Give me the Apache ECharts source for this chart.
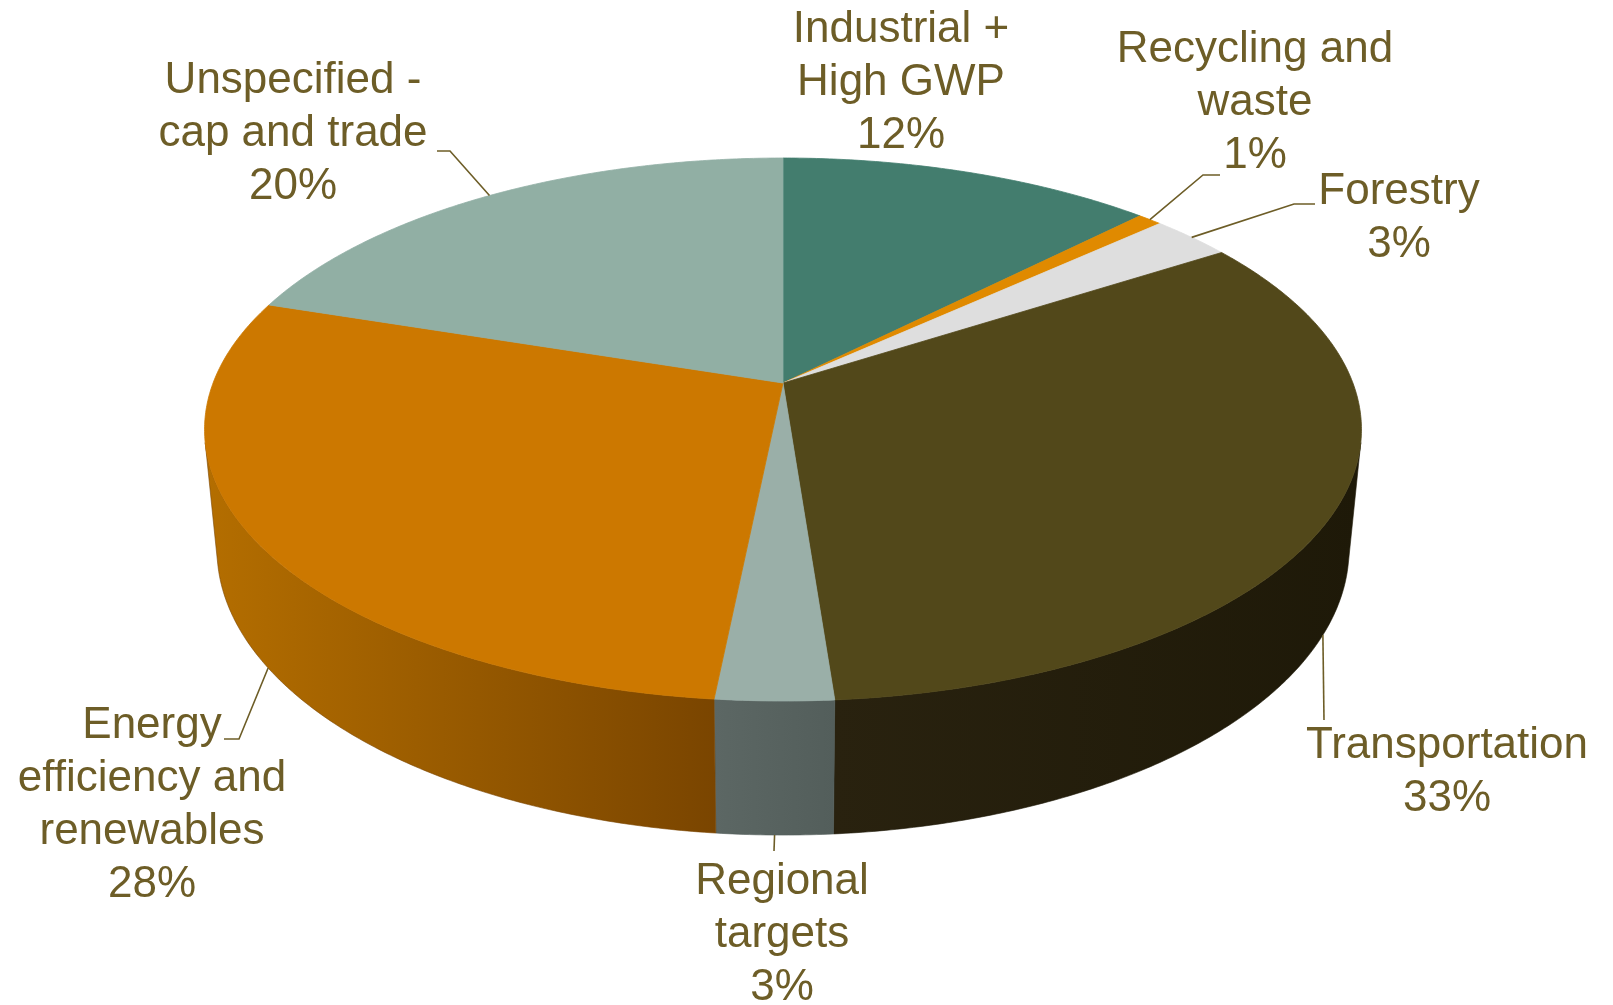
<!DOCTYPE html>
<html><head><meta charset="utf-8">
<script src="https://cdn.jsdelivr.net/npm/echarts@6/dist/echarts.min.js"></script>
<style>html,body{margin:0;padding:0;background:#fff}#chart{width:1613px;height:1005px}</style>
</head><body><div id="chart"></div>
<script>
// ---- data ----
const categories = ['Industrial +\nHigh GWP', 'Recycling and\nwaste', 'Forestry', 'Transportation', 'Regional\ntargets', 'Energy\nefficiency and\nrenewables', 'Unspecified -\ncap and trade'];
const values = [12.4, 0.8, 2.7, 32.9, 2.8, 28.45, 19.95];

// ---- styles ----
const topColors = ['#437d6e', '#e08a00', '#dedede', '#52481a', '#9aafa8', '#cc7800', '#91afa4'];
const sideColors = [['#2f584d', '#2a4f45'], ['#9c6000', '#8a5500'], ['#a0a0a0', '#909090'], ['#29220f', '#1e1908'], ['#5c6764', '#535e5b'], ['#b46e00', '#7a4500'], ['#65807a', '#5a736d']];
const labelColor = '#6d5d27';
// label layout: centre x, centre y of first line, leader bend points (toward label)
const labelLayout = [
  { x: 901, y: 30, leader: null },
  { x: 1255, y: 50, leader: [[1203, 175], [1220, 175]] },
  { x: 1399, y: 192, leader: [[1294, 204], [1315, 204]] },
  { x: 1447, y: 746, leader: [[1324, 720]] },
  { x: 782, y: 882, leader: [[774, 851]] },
  { x: 152, y: 726, leader: [[239, 739], [224, 739]] },
  { x: 293, y: 81, leader: [[450, 151], [437, 151]] }
];
// ---- 3D projection parameters ----
const P = { cx: 783, cy: 383, A: 569.9, sa: 0.4624, ca: 0.8867, D: 5.176, h: 0.239 };

function proj(phi, level) {
  const x = Math.sin(phi), z = Math.cos(phi), y = level;
  const den = 1 + (-y * P.sa + z * P.ca) / P.D;
  const sy = P.A * (z * P.sa + y * P.ca) / den;
  return [P.cx + P.A * x / den, P.cy - sy];
}
const total = values.reduce((a, b) => a + b, 0);
const cum = [];
values.reduce((acc, v, i) => { cum[i] = acc; return acc + v; }, 0);
const visLimit = Math.acos(-1 / (P.D * P.ca)); // side wall visible for phi in [visLimit, 2PI - visLimit]

function arc(a0, a1, level) {
  const pts = [];
  const n = Math.max(2, Math.ceil((a1 - a0) / (Math.PI / 360)));
  for (let i = 0; i <= n; i++) pts.push(proj(a0 + (a1 - a0) * i / n, level));
  return pts;
}

function renderItem(params, api) {
  const i = params.dataIndex;
  const v = api.value(0);
  const a0 = cum[i] / total * 2 * Math.PI;
  const a1 = (cum[i] + v) / total * 2 * Math.PI;
  const children = [];
  // side wall
  const s0 = Math.max(a0, visLimit), s1 = Math.min(a1, 2 * Math.PI - visLimit);
  if (s1 > s0) {
    const topArc = arc(s0, s1, 0);
    const botArc = arc(s0, s1, -P.h).reverse();
    children.push({
      type: 'polygon', z2: 1,
      shape: { points: topArc.concat(botArc) },
      style: {
        fill: new echarts.graphic.LinearGradient(0, 0, 1, 0, [
          { offset: 0, color: sideColors[i][0] }, { offset: 1, color: sideColors[i][1] }]),
        stroke: sideColors[i][1], lineWidth: 0.6
      }
    });
  }
  // top face
  children.push({
    type: 'polygon', z2: 2,
    shape: { points: [[P.cx, P.cy]].concat(arc(a0, a1, 0)) },
    style: { fill: topColors[i], stroke: topColors[i], lineWidth: 0.8 }
  });
  // label
  const L = labelLayout[i];
  const mid = (a0 + a1) / 2;
  const anchor = Math.cos(mid) < -1 / (P.D * P.ca) ? proj(mid, -P.h) : proj(mid, 0);
  if (L.leader) {
    children.push({
      type: 'polyline', z2: 5,
      shape: { points: [anchor].concat(L.leader) },
      style: { stroke: labelColor, lineWidth: 1.6, fill: null }
    });
  }
  const pct = Math.round(v / total * 100) + '%';
  children.push({
    type: 'text', z2: 6,
    style: {
      text: categories[i] + '\n' + pct,
      x: L.x, y: L.y - 26.5,
      align: 'center', verticalAlign: 'top',
      font: '44px "Liberation Sans", Arial, sans-serif',
      lineHeight: 53,
      fill: labelColor
    }
  });
  return { type: 'group', children };
}

const chart = echarts.init(document.getElementById('chart'), null, { renderer: 'canvas' });
chart.setOption({
  backgroundColor: '#ffffff',
  animation: false,
  series: [{
    type: 'custom',
    coordinateSystem: 'none',
    renderItem,
    data: values.map((v, i) => ({ name: categories[i], value: [v] }))
  }]
});
</script></body></html>
